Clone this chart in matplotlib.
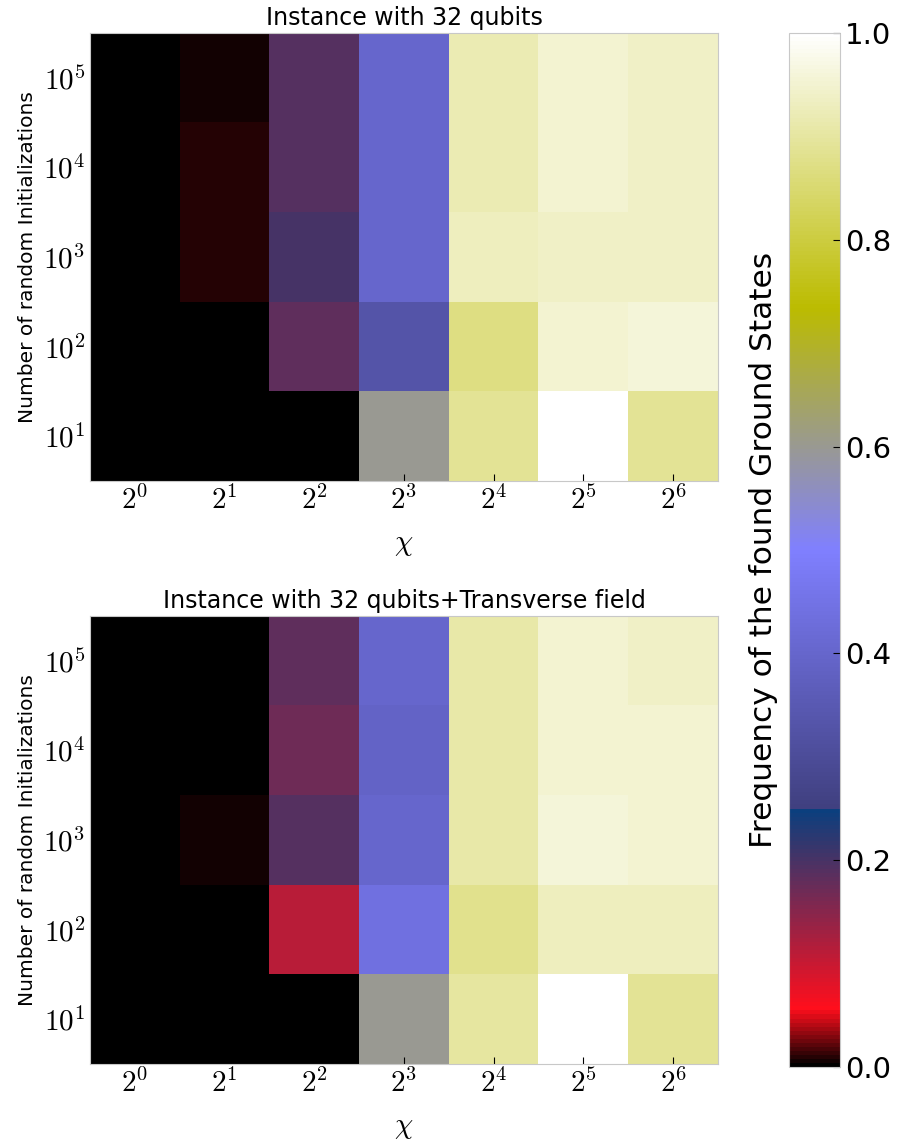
import numpy as np
import matplotlib
matplotlib.use("Agg")
import matplotlib.pyplot as plt

plt.rcParams['mathtext.fontset'] = 'cm'
plt.rcParams['font.family'] = ['DejaVu Sans']

chi_labels = [r'$2^{0}$', r'$2^{1}$', r'$2^{2}$', r'$2^{3}$', r'$2^{4}$', r'$2^{5}$', r'$2^{6}$']
init_labels = [r'$10^{1}$', r'$10^{2}$', r'$10^{3}$', r'$10^{4}$', r'$10^{5}$']

# rows: 10^1 .. 10^5, columns: chi = 2^0 .. 2^6
freq_plain = [
    [0.0, 0.0,   0.0,  0.60, 0.89, 1.00, 0.89],
    [0.0, 0.0,   0.18, 0.33, 0.87, 0.95, 0.96],
    [0.0, 0.009, 0.20, 0.40, 0.93, 0.94, 0.94],
    [0.0, 0.009, 0.19, 0.40, 0.92, 0.95, 0.94],
    [0.0, 0.0045, 0.19, 0.40, 0.92, 0.95, 0.94],
]
freq_field = [
    [0.0, 0.0,   0.0,  0.60, 0.90, 1.00, 0.89],
    [0.0, 0.0,   0.11, 0.44, 0.88, 0.93, 0.93],
    [0.0, 0.004, 0.19, 0.40, 0.91, 0.96, 0.95],
    [0.0, 0.0,   0.17, 0.39, 0.91, 0.95, 0.95],
    [0.0, 0.0,   0.18, 0.40, 0.91, 0.95, 0.94],
]
titles = ['Instance with 32 qubits', 'Instance with 32 qubits+Transverse field']

fig = plt.figure(figsize=(9.04, 11.44), dpi=100)
W, H = 904, 1144
ax1 = fig.add_axes([90/W, 1-481/H, 628/W, 448/H])
ax2 = fig.add_axes([90/W, 1-1064/H, 628/W, 448/H])
cax = fig.add_axes([789/W, 1-1067/H, 51/W, 1034/H])

for ax, data, title in zip([ax1, ax2], [freq_plain, freq_field], titles):
    im = ax.imshow(np.array(data), cmap='gist_stern', vmin=0, vmax=1,
                   origin='lower', aspect='auto', interpolation='nearest')
    ax.set_xticks(range(len(chi_labels)))
    ax.set_xticklabels(chi_labels, fontsize=21)
    ax.set_yticks(range(len(init_labels)))
    ax.set_yticklabels(init_labels, fontsize=21)
    ax.tick_params(direction='in', length=5, color='black')
    ax.set_xlabel(r'$\chi$', fontsize=21, labelpad=11)
    ax.set_ylabel('Number of random Initializations', fontsize=14.5)
    ax.set_title(title, fontsize=17)
    for s in ax.spines.values():
        s.set_color('#c8c8c8')

cb = fig.colorbar(im, cax=cax)
cb.set_ticks([0.0, 0.2, 0.4, 0.6, 0.8, 1.0])
cb.ax.tick_params(direction='in', length=5, labelsize=21)
cb.outline.set_edgecolor('#c8c8c8')
cb.ax.yaxis.set_label_position('left')
cb.set_label('Frequency of the found Ground States', fontsize=22.5, labelpad=8)

fig.savefig('out.png', dpi=100)
